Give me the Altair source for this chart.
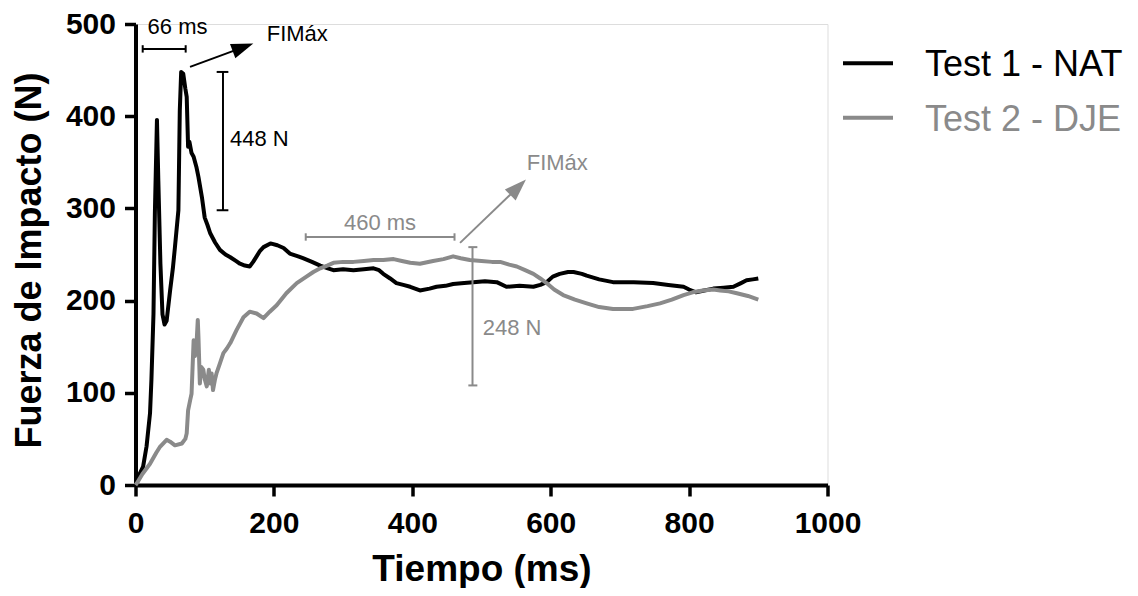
import altair as alt
import pandas as pd

# ---------------- data ----------------
t1_time = [0, 2, 6, 11, 16, 21, 23, 26, 28, 31, 33, 36, 39, 42, 45, 50, 54, 57, 62, 64,
           66, 69, 72, 74, 76, 78, 81, 84, 88, 91, 96, 100, 104, 108, 115, 122, 130, 137, 145, 151,
           158, 165, 170, 175, 180, 185, 195, 205, 214, 223, 235, 242, 255, 267, 278, 286, 300, 315, 330, 344,
           352, 358, 368, 377, 387, 397, 411, 425, 435, 448, 459, 475, 488, 505, 522, 536, 555, 575, 585, 594,
           603, 613, 625, 633, 645, 652, 670, 690, 720, 748, 770, 792, 800, 810, 822, 835, 850, 864, 875, 883,
           892, 900]
t1_force = [0, 2, 12, 20, 42, 78, 114, 186, 295, 396, 330, 240, 185, 174, 178, 211, 235, 258, 298, 406,
            448, 446, 430, 421, 367, 372, 360, 356, 345, 334, 312, 290, 282, 273, 263, 255, 250, 247, 243, 240,
            238, 237, 242, 248, 254, 258, 262, 260, 257, 251, 248, 246, 242, 238, 235, 233, 234, 233, 234, 235,
            233, 229, 224, 219, 217, 215, 211, 213, 215, 216, 218, 219, 220, 221, 220, 215, 216, 215, 217, 220,
            226, 229, 231, 231, 229, 227, 223, 220, 220, 219, 217, 215, 212, 209, 211, 213, 214, 215, 219, 222,
            223, 224]

t2_time = [0, 2, 10, 21, 30, 35, 45, 50, 57, 67, 72, 74, 76, 79, 81, 84, 86, 88, 90, 91,
           93, 95, 98, 100, 103, 106, 108, 110, 112, 115, 117, 122, 127, 132, 137, 146, 156, 165, 175, 185,
           194, 204, 218, 233, 247, 257, 267, 277, 286, 300, 315, 330, 344, 358, 373, 385, 397, 411, 430, 445,
           459, 470, 483, 500, 515, 527, 540, 551, 563, 575, 585, 594, 605, 618, 635, 652, 670, 690, 705, 719,
           740, 758, 775, 792, 805, 820, 835, 845, 857, 869, 885, 900]
t2_force = [0, 2, 12, 23, 35, 41, 49, 47, 43, 45, 50, 56, 81, 92, 99, 157, 140, 150, 179, 160,
            110, 128, 125, 115, 107, 125, 110, 121, 103, 115, 121, 132, 143, 148, 154, 168, 182, 188, 186, 181,
            188, 195, 208, 219, 226, 231, 235, 238, 241, 242, 242, 243, 244, 244, 245, 243, 241, 240, 243, 245,
            248, 246, 244, 243, 242, 242, 239, 237, 233, 229, 224, 219, 212, 206, 201, 197, 193, 191, 191, 191,
            194, 197, 201, 206, 209, 211, 212, 211, 210, 208, 205, 201]

series_names = ["Test 1 - NAT", "Test 2 - DJE"]
series_colors = ["#000000", "#8a8a8a"]

x_ticks = [0, 200, 400, 600, 800, 1000]
y_ticks = [0, 100, 200, 300, 400, 500]

# annotation segments (brackets + arrow shafts), data units
seg_x = [10.4, 10.4, 72.5, 126.4, 117.3, 117.3, 246, 246, 461, 487, 481, 481, 78.8, 469]
seg_x2 = [72.5, 10.4, 72.5, 126.4, 134.2, 134.2, 461, 246, 461, 487, 494, 494, 155.3, 552.9]
seg_y = [473, 469, 469, 298, 448, 298, 269, 265, 265, 108, 258, 108, 453.5, 262.6]
seg_y2 = [473, 477, 477, 448, 448, 298, 269, 273, 273, 258, 258, 108, 474.7, 323]
seg_series = [0, 0, 0, 0, 0, 0, 1, 1, 1, 1, 1, 1, 0, 1]

# arrow heads
head_x = [155.3, 552.9]
head_y = [474.7, 323]
head_angle = [339.7, 315.6]

# annotation labels
lab_text = ["66 ms", "FIMáx", "448 N", "460 ms", "FIMáx", "248 N"]
lab_x = [60.7, 189.6, 136.6, 353.3, 565.3, 501.7]
lab_y = [496.8, 489.6, 375.8, 283.7, 348.7, 169.9]
lab_series = [0, 0, 0, 1, 1, 1]
lab_align = ["center", "left", "left", "center", "left", "left"]

FONT = "Liberation Sans"

# ---------------- tables ----------------
df1 = pd.DataFrame({"t": t1_time, "f": t1_force, "serie": series_names[0]})
df2 = pd.DataFrame({"t": t2_time, "f": t2_force, "serie": series_names[1]})
df_seg = pd.DataFrame({"x": seg_x, "x2": seg_x2, "y": seg_y, "y2": seg_y2,
                       "c": [series_colors[i] for i in seg_series]})
df_head = pd.DataFrame({"x": head_x, "y": head_y, "a": head_angle, "c": series_colors})
df_lab = pd.DataFrame({"x": lab_x, "y": lab_y, "text": lab_text,
                       "c": [series_colors[i] for i in lab_series], "align": lab_align})

xscale = alt.Scale(domain=[0, 1000], nice=False, zero=True)
yscale = alt.Scale(domain=[0, 500], nice=False, zero=True)

axis_common = dict(
    domainColor="black", domainWidth=4, tickColor="black", tickWidth=3.5, tickSize=11,
    labelFont=FONT, labelFontWeight="bold", labelFontSize=30, labelColor="black",
    titleFont=FONT, titleFontWeight="bold", titleFontSize=37, titleColor="black",
    grid=False, labelFlush=False, labelOverlap=False, format="d",
)
xaxis = alt.Axis(values=x_ticks, title="Tiempo (ms)", labelPadding=12,
                 titleBaseline="alphabetic", titleY=95, **axis_common)
yaxis = alt.Axis(values=y_ticks, title="Fuerza de Impacto (N)", labelPadding=9,
                 titleBaseline="alphabetic", titleX=-95, titleY=236, titleAngle=-90,
                 titleFontSize=36,
                 **{k: v for k, v in axis_common.items() if k != "titleFontSize"})


def line_layer(df, color):
    return alt.Chart(df).mark_line(color=color, strokeWidth=4, strokeJoin="round").encode(
        x=alt.X("t:Q", scale=xscale, axis=xaxis),
        y=alt.Y("f:Q", scale=yscale, axis=yaxis),
    )


black_line = line_layer(df1, series_colors[0])
gray_line = line_layer(df2, series_colors[1])

segs = alt.Chart(df_seg).mark_rule(strokeWidth=2).encode(
    x=alt.X("x:Q", scale=xscale), x2="x2:Q",
    y=alt.Y("y:Q", scale=yscale), y2="y2:Q",
    color=alt.Color("c:N", scale=None),
)

heads = alt.Chart(df_head).mark_point(
    shape="M-1,-0.7L1,0L-1,0.7Z", filled=True, size=484, opacity=1, strokeWidth=0
).encode(
    x=alt.X("x:Q", scale=xscale), y=alt.Y("y:Q", scale=yscale),
    angle=alt.Angle("a:Q", scale=None),
    color=alt.Color("c:N", scale=None),
)

lab_center = alt.Chart(df_lab[df_lab["align"] == "center"]).mark_text(
    font=FONT, fontSize=22, align="center", baseline="middle"
).encode(
    x=alt.X("x:Q", scale=xscale), y=alt.Y("y:Q", scale=yscale),
    text="text:N", color=alt.Color("c:N", scale=None),
)
lab_left = alt.Chart(df_lab[df_lab["align"] == "left"]).mark_text(
    font=FONT, fontSize=22, align="left", baseline="middle"
).encode(
    x=alt.X("x:Q", scale=xscale), y=alt.Y("y:Q", scale=yscale),
    text="text:N", color=alt.Color("c:N", scale=None),
)

# legend (drawn manually at the right of the plot)
legend_layers = []
legend_y_sym = [39.3, 93.7]
legend_y_txt = [41, 96]
for i, name in enumerate(series_names):
    d = pd.DataFrame({"name": [name]})
    legend_layers.append(
        alt.Chart(d).mark_rule(color=series_colors[i], strokeWidth=4).encode(
            x=alt.value(707.5), x2=alt.value(757.5), y=alt.value(legend_y_sym[i])
        )
    )
    legend_layers.append(
        alt.Chart(d).mark_text(font=FONT, fontSize=36, align="left", baseline="middle",
                               color=series_colors[i]).encode(
            x=alt.value(789.5), y=alt.value(legend_y_txt[i]), text="name:N"
        )
    )

chart = alt.layer(
    black_line, gray_line, segs, heads, lab_center, lab_left, *legend_layers
).properties(
    width=692, height=461,
    autosize=alt.AutoSizeParams(type="none"),
    padding={"left": 127.5, "top": 16, "right": 302.5, "bottom": 103},
).configure_view(stroke=None).configure(background="white")

chart.save("out.html", embed_options={"renderer": "svg", "actions": False})
